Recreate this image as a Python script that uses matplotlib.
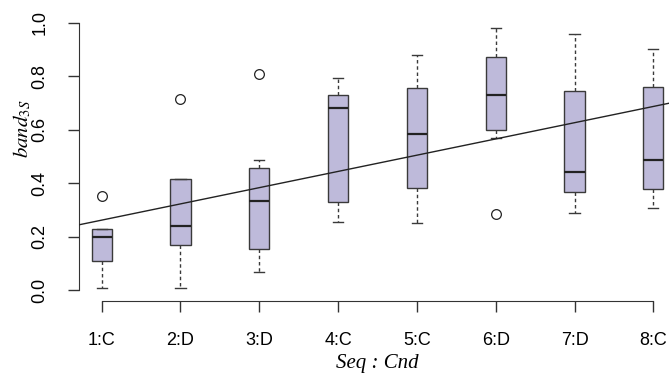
import matplotlib
matplotlib.use("Agg")
import matplotlib.pyplot as plt

# Data (band_3S by Seq:Cnd)
labels = ["1:C", "2:D", "3:D", "4:C", "5:C", "6:D", "7:D", "8:C"]
whislo = [0.009, 0.009, 0.068, 0.255, 0.252, 0.567, 0.288, 0.305]
q1 = [0.110, 0.167, 0.153, 0.330, 0.380, 0.598, 0.366, 0.379]
med = [0.199, 0.240, 0.334, 0.682, 0.583, 0.730, 0.441, 0.486]
q3 = [0.227, 0.414, 0.457, 0.729, 0.755, 0.872, 0.743, 0.760]
whishi = [0.227, 0.414, 0.486, 0.791, 0.877, 0.981, 0.957, 0.901]
fliers = [[0.352], [0.714], [0.807], [], [], [0.283], [], []]

# fitted line: band = intercept + slope * seq
intercept = 0.2005
slope = 0.0607

plt.rcParams['mathtext.fontset'] = 'stix'

fig = plt.figure(figsize=(6.69, 3.73), dpi=100)
# plot region runs a bit past the right edge of the picture (cropped, like the original)
ax = fig.add_axes([79 / 669, 72.3 / 373, 597 / 669, 288.9 / 373])

stats = []
for i in range(len(labels)):
    stats.append(dict(whislo=whislo[i], q1=q1[i], med=med[i], q3=q3[i],
                      whishi=whishi[i], fliers=fliers[i]))

edge = '#3a3a3a'
ax.bxp(stats, positions=range(1, len(labels) + 1), widths=0.254,
       capwidths=0.127, patch_artist=True, showfliers=True,
       boxprops=dict(facecolor='#BEBADA', edgecolor=edge, linewidth=1.0),
       medianprops=dict(color='#222222', linewidth=1.6),
       whiskerprops=dict(color=edge, linewidth=1.0, linestyle=(0, (2.5, 2))),
       capprops=dict(color=edge, linewidth=1.0),
       flierprops=dict(marker='o', markersize=7, markerfacecolor='none',
                       markeredgecolor='#222222', markeredgewidth=0.9))

ax.axline((0, intercept), slope=slope, color='#222222', linewidth=1.0, zorder=5)

ax.set_xlim(0.712, 8.288)
ax.set_ylim(-0.04, 1.04)

# R-style axes
for s in ['top', 'right']:
    ax.spines[s].set_visible(False)
ax.spines['left'].set_bounds(0, 1)
ax.spines['bottom'].set_bounds(1, 8)
ax.spines['left'].set_color('#333333')
ax.spines['bottom'].set_color('#333333')

ax.set_xticks(range(1, len(labels) + 1))
ax.set_xticklabels(labels, fontfamily='Liberation Sans', fontsize=13)
ax.set_yticks([0, 0.2, 0.4, 0.6, 0.8, 1.0])
ax.set_yticklabels(['0.0', '0.2', '0.4', '0.6', '0.8', '1.0'],
                   fontfamily='Liberation Sans', fontsize=13,
                   rotation=90, ha='center', va='center')
ax.tick_params(axis='y', length=8, width=1, color='#333333', pad=20)
ax.tick_params(axis='x', length=8, width=1, color='#333333', pad=14.5)

ax.set_xlabel('Seq : Cnd', fontfamily='Liberation Serif', style='italic',
              fontsize=15, va='center')
ax.xaxis.set_label_coords(0.5, -0.219)
ax.set_ylabel(r'$band_{\mathit{3S}}$', fontsize=15, va='center')
ax.yaxis.set_label_coords(-0.0955, 0.596)

fig.savefig('out.png', dpi=100)
